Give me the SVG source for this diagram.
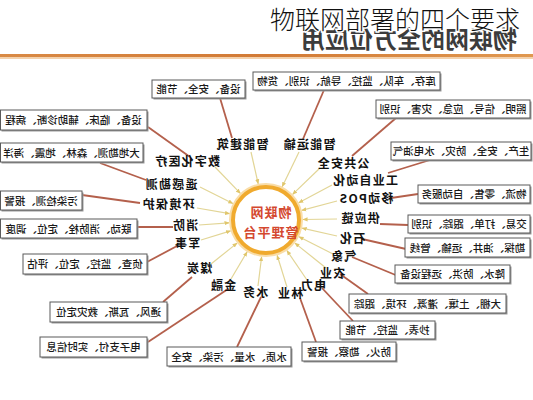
<svg xmlns="http://www.w3.org/2000/svg" width="533" height="400" viewBox="0 0 533 400">
<style>
.bx{fill:#fff;stroke:#5a5a5a;stroke-width:1}
.sh{fill:#9a9a9a}
.bt{font-family:"Noto Sans CJK SC","Noto Sans",sans-serif;font-size:10.5px;font-weight:500;fill:#1a1a1a;text-anchor:middle}
.lb{font-family:"Noto Sans CJK SC","Noto Sans",sans-serif;font-size:12px;font-weight:700;fill:#111;text-anchor:middle;letter-spacing:1.2px}
.ray{stroke:#e2d596;stroke-width:1.2;fill:none;marker-end:url(#ah)}
.con{stroke:#b4604c;stroke-width:1.8;fill:none}
.ct{font-family:"Noto Sans CJK SC","Noto Sans",sans-serif;font-size:13px;font-weight:700;fill:#d4482f;text-anchor:middle;letter-spacing:1px}
</style>
<defs>
<marker id="ah" viewBox="0 0 6 6" refX="5.5" refY="3" markerWidth="5" markerHeight="5" orient="auto" markerUnits="userSpaceOnUse"><path d="M0,0.5 L6,3 L0,5.5 z" fill="#e0c66c"/></marker>
<linearGradient id="hl" x1="0" y1="0" x2="1" y2="0"><stop offset="0" stop-color="#d98a45"/><stop offset="0.5" stop-color="#d27a35"/><stop offset="1" stop-color="#e09850"/></linearGradient>
</defs>
<rect width="533" height="400" fill="#fff"/>
<g id="header">
<text x="-409" y="48" transform="scale(-1,1)" style="font-family:'Noto Sans CJK SC',sans-serif;font-size:24px;font-weight:700;fill:#3c3c3c;text-anchor:middle">物联网的全方位应用</text>
<text x="270" y="29" style="font-family:'Noto Sans CJK SC',sans-serif;font-size:25px;font-weight:300;fill:#111;stroke:#fff;stroke-width:3;paint-order:stroke">物联网部署的四个要求</text>
<rect x="0" y="54" width="533" height="3" fill="url(#hl)"/>
<rect x="0" y="57" width="533" height="2" fill="#f3d2ae"/>
</g>
<g id="connectors">
<line class="ray" x1="251" y1="152" x2="258.2" y2="183.8"/>
<line class="ray" x1="299" y1="152" x2="282.2" y2="186.7"/>
<line class="ray" x1="320" y1="168" x2="292.6" y2="194.4"/>
<line class="ray" x1="332" y1="185" x2="298.7" y2="202.7"/>
<line class="ray" x1="337" y1="201" x2="301.7" y2="210.4"/>
<line class="ray" x1="337" y1="219" x2="303" y2="219.5"/>
<line class="ray" x1="337" y1="236" x2="302.1" y2="228.1"/>
<line class="ray" x1="333" y1="254" x2="299" y2="236.8"/>
<line class="ray" x1="326" y1="268" x2="294.9" y2="243.1"/>
<line class="ray" x1="307" y1="280" x2="286.9" y2="250.5"/>
<line class="ray" x1="287" y1="287" x2="277.1" y2="255.3"/>
<line class="ray" x1="258" y1="286" x2="261.6" y2="256.7"/>
<line class="ray" x1="231" y1="279" x2="247.1" y2="251.8"/>
<line class="ray" x1="211" y1="264" x2="237.1" y2="243.1"/>
<line class="ray" x1="201" y1="240" x2="230.6" y2="230.9"/>
<line class="ray" x1="199" y1="225" x2="229.1" y2="222.8"/>
<line class="ray" x1="197" y1="208" x2="229.6" y2="213.7"/>
<line class="ray" x1="200" y1="187" x2="232.9" y2="203.5"/>
<line class="ray" x1="215" y1="167" x2="240.4" y2="193.4"/>
<line class="con" x1="324" y1="90" x2="303" y2="139"/>
<line class="con" x1="220" y1="98" x2="232" y2="138"/>
<line class="con" x1="396" y1="118" x2="352" y2="156"/>
<line class="con" x1="430" y1="160" x2="388" y2="173"/>
<line class="con" x1="418" y1="194" x2="391" y2="198"/>
<line class="con" x1="408" y1="225" x2="380" y2="224"/>
<line class="con" x1="406" y1="249" x2="362" y2="239"/>
<line class="con" x1="398" y1="276" x2="352" y2="257"/>
<line class="con" x1="368" y1="294" x2="340" y2="274"/>
<line class="con" x1="353" y1="321" x2="322" y2="288"/>
<line class="con" x1="316" y1="342" x2="300" y2="298"/>
<line class="con" x1="237" y1="347" x2="261" y2="297"/>
<line class="con" x1="148" y1="342" x2="228" y2="289"/>
<line class="con" x1="163" y1="302" x2="192" y2="277"/>
<line class="con" x1="147" y1="262" x2="177" y2="246"/>
<line class="con" x1="137" y1="227" x2="173" y2="227"/>
<line class="con" x1="82" y1="195" x2="140" y2="203"/>
<line class="con" x1="100" y1="163" x2="146" y2="180"/>
<line class="con" x1="148" y1="127" x2="190" y2="157"/>
</g>
<g id="center">
<circle cx="266" cy="220" r="33" fill="#fff" stroke="#f9dda8" stroke-width="8"/>
<circle cx="266" cy="220" r="33" fill="#fff" stroke="#f0aa2e" stroke-width="4"/>
<text class="ct" x="-270.5" y="217" transform="scale(-1,1)">物联网</text>
<text class="ct" x="-270.5" y="237" transform="scale(-1,1)">管理平台</text>
</g>
<g id="labels">
<g id="l-zhjz"><text class="lb" x="-242" y="148.5" transform="scale(-1,1)">智能建筑</text></g>
<g id="l-znys"><text class="lb" x="-309" y="148.5" transform="scale(-1,1)">智能运输</text></g>
<g id="l-ggaq"><text class="lb" x="-343" y="167.5" transform="scale(-1,1)">公共安全</text></g>
<g id="l-gyzdh"><text class="lb" x="-365" y="184.5" transform="scale(-1,1)">工业自动化</text></g>
<g id="l-pos"><text class="lb" x="-366" y="202.5" transform="scale(-1,1)">移动POS</text></g>
<g id="l-gyl"><text class="lb" x="-360" y="222.5" transform="scale(-1,1)">供应链</text></g>
<g id="l-sh"><text class="lb" x="-352" y="242.5" transform="scale(-1,1)">石化</text></g>
<g id="l-qx"><text class="lb" x="-343" y="260.5" transform="scale(-1,1)">气象</text></g>
<g id="l-ny"><text class="lb" x="-332" y="277.5" transform="scale(-1,1)">农业</text></g>
<g id="l-dl"><text class="lb" x="-313" y="289.5" transform="scale(-1,1)">电力</text></g>
<g id="l-ly"><text class="lb" x="-290" y="297.5" transform="scale(-1,1)">林业</text></g>
<g id="l-sw"><text class="lb" x="-255" y="296.5" transform="scale(-1,1)">水务</text></g>
<g id="l-jr"><text class="lb" x="-223" y="289.5" transform="scale(-1,1)">金融</text></g>
<g id="l-mt"><text class="lb" x="-199" y="272.5" transform="scale(-1,1)">煤炭</text></g>
<g id="l-js"><text class="lb" x="-187" y="247.5" transform="scale(-1,1)">军事</text></g>
<g id="l-xf"><text class="lb" x="-185" y="229.5" transform="scale(-1,1)">消防</text></g>
<g id="l-hjbh"><text class="lb" x="-168" y="208.5" transform="scale(-1,1)">环境保护</text></g>
<g id="l-ygkc"><text class="lb" x="-171" y="188.5" transform="scale(-1,1)">遥感勘测</text></g>
<g id="l-szhyl"><text class="lb" x="-187" y="165.5" transform="scale(-1,1)">数字化医疗</text></g>
</g>
<g id="boxes">
<g id="b-a"><rect class="sh" x="254.5" y="73.5" width="187" height="18"/><rect class="bx" x="253" y="72" width="187" height="18"/><text class="bt" x="-346.5" y="85" transform="scale(-1,1)">库存、车队、监控、导航、识别、货物</text></g>
<g id="b-b"><rect class="sh" x="153.5" y="81.5" width="93" height="18"/><rect class="bx" x="152" y="80" width="93" height="18"/><text class="bt" x="-198.5" y="93" transform="scale(-1,1)">设备、安全、节能</text></g>
<g id="b-c"><rect class="sh" x="377.5" y="101.5" width="154" height="18"/><rect class="bx" x="376" y="100" width="154" height="18"/><text class="bt" x="-453" y="113" transform="scale(-1,1)">照明、信号、应急、灾害、识别</text></g>
<g id="b-d"><rect class="sh" x="392.5" y="143.5" width="140" height="18"/><rect class="bx" x="391" y="142" width="140" height="18"/><text class="bt" x="-461" y="155" transform="scale(-1,1)">生产、安全、防灾、水电油气</text></g>
<g id="b-e"><rect class="sh" x="419.5" y="186.5" width="112" height="18"/><rect class="bx" x="418" y="185" width="112" height="18"/><text class="bt" x="-474" y="198" transform="scale(-1,1)">物流、零售、自动服务</text></g>
<g id="b-f"><rect class="sh" x="409.5" y="216.5" width="122" height="18"/><rect class="bx" x="408" y="215" width="122" height="18"/><text class="bt" x="-469" y="228" transform="scale(-1,1)">交易、打单、跟踪、识别</text></g>
<g id="b-g"><rect class="sh" x="406.5" y="239.5" width="125" height="19"/><rect class="bx" x="405" y="238" width="125" height="19"/><text class="bt" x="-467.5" y="251.5" transform="scale(-1,1)">勘探、油井、运输、管线</text></g>
<g id="b-h"><rect class="sh" x="396.5" y="266.5" width="115" height="18"/><rect class="bx" x="395" y="265" width="115" height="18"/><text class="bt" x="-452.5" y="278" transform="scale(-1,1)">降水、防洪、远程设备</text></g>
<g id="b-i"><rect class="sh" x="350.5" y="295.5" width="157" height="19"/><rect class="bx" x="349" y="294" width="157" height="19"/><text class="bt" x="-427.5" y="307.5" transform="scale(-1,1)">大棚、土壤、灌溉、环境、跟踪</text></g>
<g id="b-j"><rect class="sh" x="341.5" y="322.5" width="95" height="18"/><rect class="bx" x="340" y="321" width="95" height="18"/><text class="bt" x="-387.5" y="334" transform="scale(-1,1)">抄表、监控、节能</text></g>
<g id="b-k"><rect class="sh" x="303.5" y="343.5" width="94" height="19"/><rect class="bx" x="302" y="342" width="94" height="19"/><text class="bt" x="-349" y="355.5" transform="scale(-1,1)">防火、勘察、报警</text></g>
<g id="b-l"><rect class="sh" x="168.5" y="348.5" width="124" height="19"/><rect class="bx" x="167" y="347" width="124" height="19"/><text class="bt" x="-229" y="360.5" transform="scale(-1,1)">水质、水量、污染、安全</text></g>
<g id="b-m"><rect class="sh" x="41.5" y="338.5" width="107" height="20"/><rect class="bx" x="40" y="337" width="107" height="20"/><text class="bt" x="-93.5" y="351" transform="scale(-1,1)">电子支付、实时信息</text></g>
<g id="b-n"><rect class="sh" x="51.5" y="303.5" width="117" height="20"/><rect class="bx" x="50" y="302" width="117" height="20"/><text class="bt" x="-108.5" y="316" transform="scale(-1,1)">通风、瓦斯、救灾定位</text></g>
<g id="b-o"><rect class="sh" x="24.5" y="255.5" width="124" height="20"/><rect class="bx" x="23" y="254" width="124" height="20"/><text class="bt" x="-85" y="268" transform="scale(-1,1)">侦查、监控、定位、评估</text></g>
<g id="b-p"><rect class="sh" x="1.5" y="220.5" width="137" height="19"/><rect class="bx" x="0.5" y="219" width="136.5" height="19"/><text class="bt" x="-68.5" y="232.5" transform="scale(-1,1)">联动、消防栓、定位、调度</text></g>
<g id="b-q"><rect class="sh" x="1.5" y="192.5" width="82" height="19"/><rect class="bx" x="0.5" y="191" width="81.5" height="19"/><text class="bt" x="-41" y="204.5" transform="scale(-1,1)">污染检测、报警</text></g>
<g id="b-r"><rect class="sh" x="1.5" y="144.5" width="143" height="19"/><rect class="bx" x="0.5" y="143" width="142.5" height="19"/><text class="bt" x="-71.5" y="156.5" transform="scale(-1,1)">大地勘测、森林、地震、海洋</text></g>
<g id="b-s"><rect class="sh" x="1.5" y="111.5" width="147" height="20"/><rect class="bx" x="0.5" y="110" width="146.5" height="20"/><text class="bt" x="-73.5" y="124" transform="scale(-1,1)">设备、临床、辅助诊断、病程</text></g>
</g>
</svg>
